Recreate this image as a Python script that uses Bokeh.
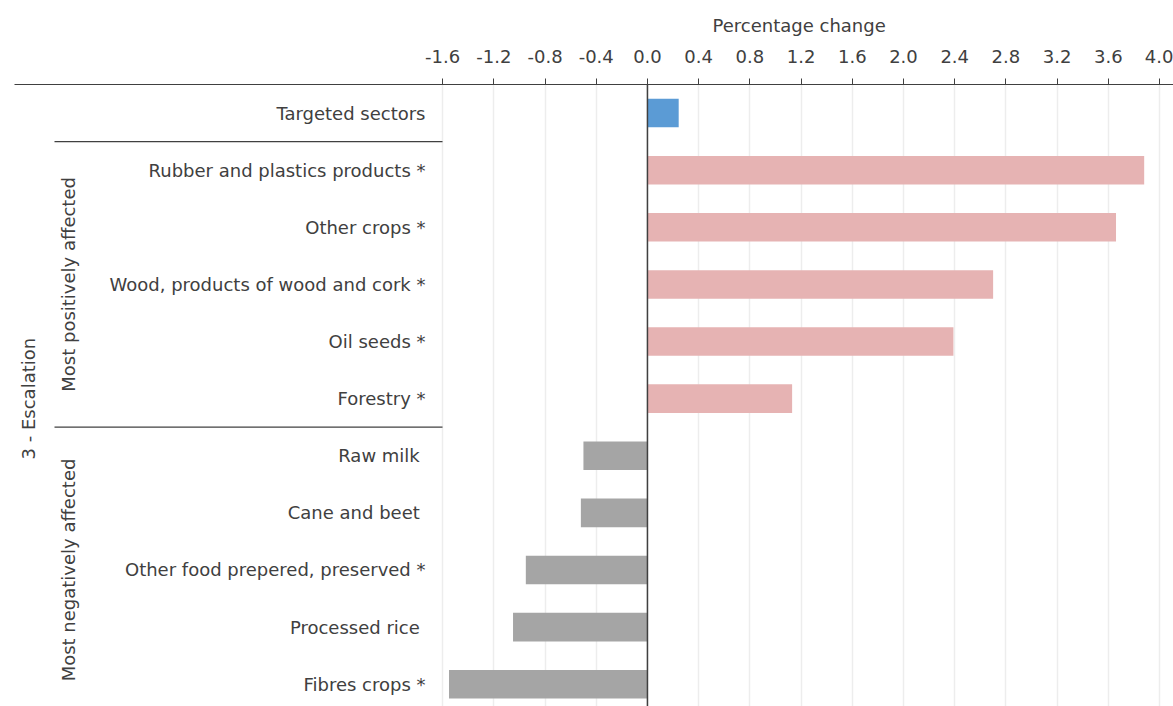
import numpy as np
from bokeh.plotting import figure
from bokeh.models import Range1d, FixedTicker, Span, ColumnDataSource, CategoricalColorMapper
from bokeh.embed import file_html
from bokeh.resources import INLINE
from bokeh.core.properties import value

# ---------------- data ----------------
categories = [
    "Targeted sectors",
    "Rubber and plastics products *",
    "Other crops *",
    "Wood, products of wood and cork *",
    "Oil seeds *",
    "Forestry *",
    "Raw milk\u00a0",
    "Cane and beet\u00a0",
    "Other food prepered, preserved *",
    "Processed rice\u00a0",
    "Fibres crops *",
]
values = [0.244, 3.88, 3.66, 2.70, 2.39, 1.13, -0.50, -0.52, -0.95, -1.05, -1.55]
groups = ["Targeted"] + ["Most positively affected"] * 5 + ["Most negatively affected"] * 5
scenario = "3 - Escalation"
axis_title = "Percentage change"
tick_values = [-1.6, -1.2, -0.8, -0.4, 0.0, 0.4, 0.8, 1.2, 1.6, 2.0, 2.4, 2.8, 3.2, 3.6, 4.0]
tick_labels = ["-1.6", "-1.2", "-0.8", "-0.4", "0.0", "0.4", "0.8", "1.2", "1.6",
               "2.0", "2.4", "2.8", "3.2", "3.6", "4.0"]

# ---------------- style ----------------
FONT = "DejaVu Sans"
TXT = "#404040"
FS = "18px"
group_colors = {"Targeted": "#5B9BD5",
                "Most positively affected": "#E6B3B3",
                "Most negatively affected": "#A5A5A5"}

rows = list(range(len(categories)))
src = ColumnDataSource(dict(y=rows, v=values, cat=categories, grp=groups))
cmap = CategoricalColorMapper(factors=list(group_colors.keys()), palette=list(group_colors.values()))

p = figure(width=1173, height=706,
           x_range=Range1d(-4.944, 4.109), y_range=Range1d(10.39, -0.5),
           x_axis_location="above", y_axis_location=None,
           toolbar_location=None, output_backend="svg",
           min_border_left=14, min_border_right=0, min_border_top=84, min_border_bottom=0,
           title=axis_title)
# pixel-like range for the label panel
p.extra_x_ranges = {"px": Range1d(14, 1173)}

p.outline_line_color = None
p.background_fill_color = "white"

# title used as axis title
p.title.align = "left"
p.title.offset = 698
p.title.text_font = FONT
p.title.text_font_size = FS
p.title.text_font_style = "normal"
p.title.text_color = TXT
p.title.standoff = 22

ax = p.xaxis[0]
ax.ticker = FixedTicker(ticks=tick_values)
ax.major_label_overrides = {t: l for t, l in zip(tick_values, tick_labels)}
ax.major_label_text_font = FONT
ax.major_label_text_font_size = FS
ax.major_label_text_color = TXT
ax.major_label_standoff = 16
ax.axis_line_color = TXT
ax.axis_line_width = 1.2
ax.major_tick_line_color = TXT
ax.major_tick_out = 6
ax.major_tick_in = 0
ax.minor_tick_line_color = None

p.xgrid.ticker = FixedTicker(ticks=tick_values)
p.xgrid.grid_line_color = "#EDEDED"
p.xgrid.grid_line_width = 1.5
p.ygrid.visible = False

# bars
p.hbar(y="y", left=0, right="v", height=0.5, source=src,
       fill_color={"field": "grp", "transform": cmap}, line_color=None)

# zero line
p.add_layout(Span(location=0, dimension="height", line_color=TXT, line_width=1.5))

# category labels
p.text(x=425, y="y", text="cat", source=src, x_range_name="px",
       text_align="right", text_baseline="middle",
       text_font=value(FONT), text_font_size=FS, text_color=TXT)

# group separators & rotated group labels
bounds = [i - 0.5 for i in range(1, len(groups)) if groups[i] != groups[i - 1]]
p.segment(x0=54, x1=442, y0=bounds, y1=bounds, x_range_name="px",
          line_color=TXT, line_width=1.2)

glab, gy = [], []
for g in ["Most positively affected", "Most negatively affected"]:
    idx = [i for i, gg in enumerate(groups) if gg == g]
    glab.append(g)
    gy.append(float(np.mean(idx)))
p.text(x=68, y=gy, text=glab, x_range_name="px", angle=np.pi / 2,
       text_align="center", text_baseline="middle",
       text_font=value(FONT), text_font_size=FS, text_color=TXT)
p.text(x=28, y=[float(np.mean(rows))], text=[scenario], x_range_name="px", angle=np.pi / 2,
       text_align="center", text_baseline="middle",
       text_font=value(FONT), text_font_size=FS, text_color=TXT)

open("out.html", "w").write(file_html(p, INLINE))
